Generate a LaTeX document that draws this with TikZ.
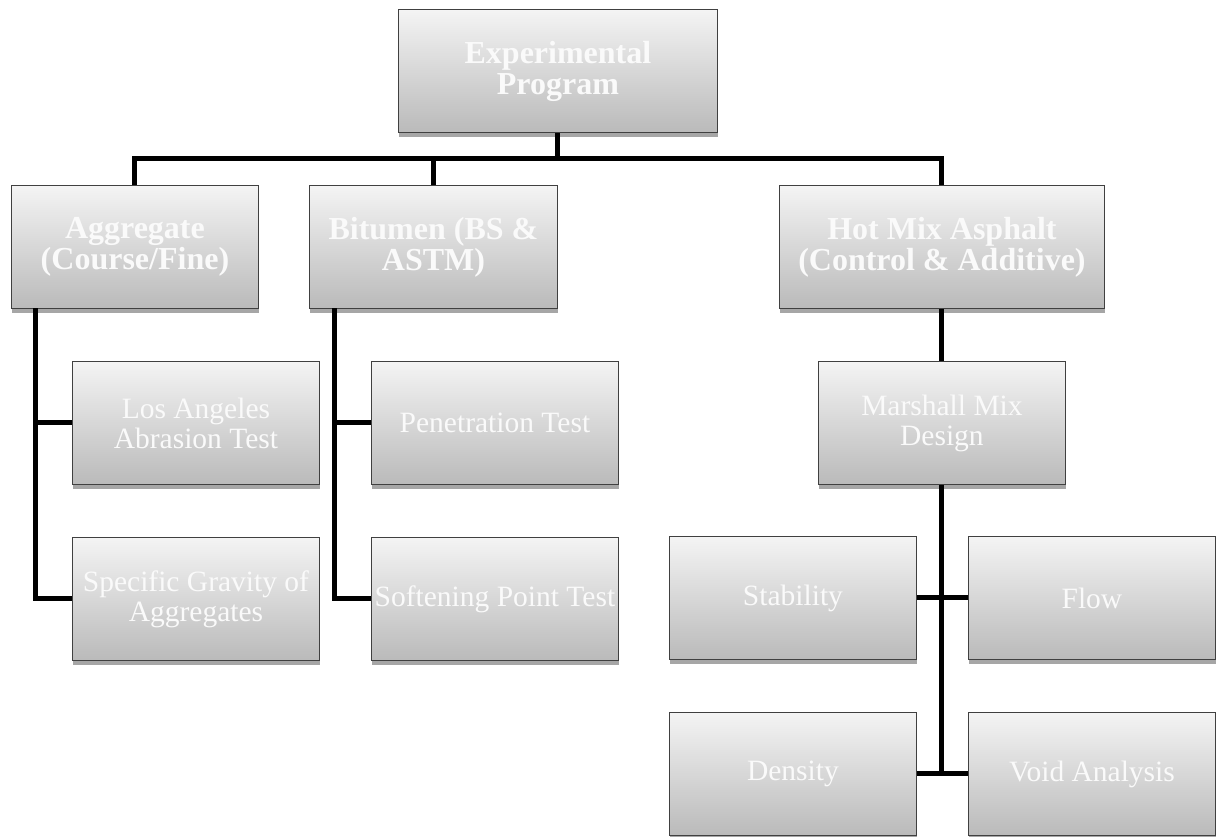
\documentclass[tikz,border=0pt]{standalone}
\usepackage{fontspec}
\setmainfont{Liberation Serif}
\usetikzlibrary{shadows}
\definecolor{boxtop}{HTML}{F4F4F4}
\definecolor{boxbot}{HTML}{BABABA}
\definecolor{boxline}{HTML}{404040}
\definecolor{shadowgray}{HTML}{A6A6A6}
\definecolor{boxtext}{HTML}{FAFAFA}
\tikzset{
  box/.style={rectangle, anchor=north west, top color=boxtop, bottom color=boxbot,
    draw=boxline, line width=0.9pt, text=boxtext, align=center, inner sep=2pt,
    minimum width=247pt, minimum height=123pt,
    drop shadow={shadow xshift=0.6pt, shadow yshift=-5pt, fill=shadowgray, opacity=1}},
  boldbox/.style={box, font=\fontsize{32}{31}\selectfont\bfseries},
  plainbox/.style={box, font=\fontsize{29.5}{30}\selectfont},
  conn/.style={line width=5pt, draw=black, line join=miter}
}
\begin{document}
\begin{tikzpicture}[x=1pt, y=-1pt]
\useasboundingbox (0,0) rectangle (1220,836);
\begin{scope}
\clip (0,0) rectangle (1220,836);
% level 0
\node[boldbox, minimum width=319pt] (top) at (398,9) {Experimental\\Program};
% level 1
\node[boldbox] (agg) at (11,185) {Aggregate\\(Course/Fine)};
\node[boldbox, minimum width=248pt] (bit) at (309,185) {Bitumen (BS \&\\ASTM)};
\node[boldbox, minimum width=325pt] (hma) at (779,185) {Hot Mix Asphalt\\(Control \& Additive)};
% level 2
\node[plainbox] (la) at (72,361) {Los Angeles\\Abrasion Test};
\node[plainbox] (sg) at (72,537) {Specific Gravity of\\Aggregates};
\node[plainbox] (pen) at (371,361) {Penetration Test};
\node[plainbox] (soft) at (371,537) {Softening Point Test};
\node[plainbox] (mmd) at (818,361) {Marshall Mix\\Design};
% level 3
\node[plainbox] (stab) at (669,536) {Stability};
\node[plainbox] (flow) at (968,536) {Flow};
\node[plainbox] (dens) at (669,712) {Density};
\node[plainbox] (void) at (968,712) {Void Analysis};
% connectors
\path (top.south) ++(0,26) coordinate (bus);
\draw[conn] (top.south) -- (bus);
\draw[conn] (agg.north) |- (bus) -| (hma.north);
\draw[conn] (bit.north) -- (bit.north |- bus);
\coordinate (aggtrunk) at (35,308);
\draw[conn] (aggtrunk) |- (sg.west);
\draw[conn] (aggtrunk |- la.west) -- (la.west);
\coordinate (bittrunk) at (334,308);
\draw[conn] (bittrunk) |- (soft.west);
\draw[conn] (bittrunk |- pen.west) -- (pen.west);
\draw[conn] (hma.south) -- (mmd.north);
\draw[conn] (mmd.south) -- (mmd.south |- dens.east);
\draw[conn] (stab.east) -- (flow.west);
\draw[conn] (dens.east) -- (void.west);
\end{scope}
\end{tikzpicture}
\end{document}
